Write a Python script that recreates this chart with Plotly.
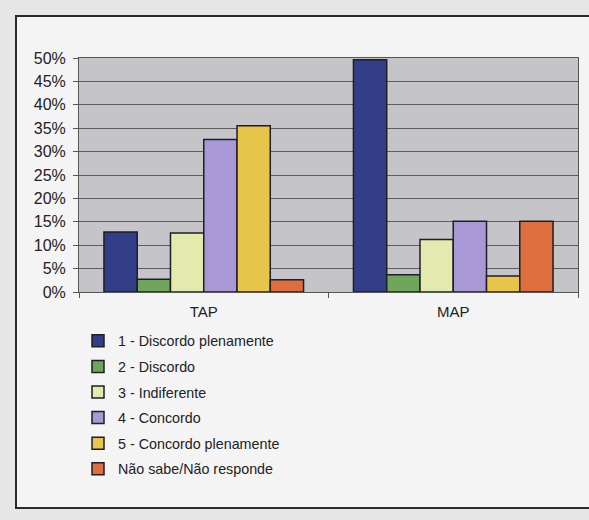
import plotly.graph_objects as go

# Survey responses by group (percent of respondents)
categories = ["TAP", "MAP"]
series_names = [
    "1 - Discordo plenamente",
    "2 - Discordo",
    "3 - Indiferente",
    "4 - Concordo",
    "5 - Concordo plenamente",
    "Não sabe/Não responde",
]
discordo_plenamente = [12.8, 49.6]
discordo = [2.7, 3.7]
indiferente = [12.6, 11.2]
concordo = [32.6, 15.1]
concordo_plenamente = [35.5, 3.4]
nao_sabe = [2.6, 15.1]
y_ticks = [0, 5, 10, 15, 20, 25, 30, 35, 40, 45, 50]
y_tick_labels = [f"{v}%" for v in y_ticks]

series_values = [discordo_plenamente, discordo, indiferente,
                 concordo, concordo_plenamente, nao_sabe]
colors = ["#323f88", "#6fa65b", "#e4eaae", "#a898d6", "#e6c54a", "#de6e3e"]

W, H = 589, 520
L, R, T, B = 79, 11, 58, 228
plot_w = W - L - R
plot_h = H - T - B


def px_x(px):
    return (px - L) / plot_w


def px_y(py):
    return (H - B - py) / plot_h


fig = go.Figure()
for i, (name, vals, col) in enumerate(zip(series_names, series_values, colors)):
    fig.add_trace(go.Bar(
        x=categories, y=vals, name=name, legendgroup=f"g{i}",
        marker=dict(color=col, line=dict(color="#1e1e24", width=1.5)),
    ))

# Surrounding page strips outside the chart frame
strip = "#e6e6e6"
for x0, x1, y0, y1 in [(-10, 16, -10, 530), (-10, 640, -10, 16), (-10, 640, 508, 530)]:
    fig.add_shape(type="rect", xref="paper", yref="paper",
                  x0=px_x(x0), x1=px_x(x1), y0=px_y(y1), y1=px_y(y0),
                  line=dict(width=0), fillcolor=strip, layer="below")

# Outer frame of the chart sheet
fig.add_shape(type="rect", xref="paper", yref="paper",
              x0=px_x(16), x1=px_x(640), y0=px_y(508), y1=px_y(16),
              line=dict(color="#2a2a2a", width=2), fillcolor="rgba(0,0,0,0)")

fig.update_layout(
    width=W, height=H,
    margin=dict(l=L, r=R, t=T, b=B),
    paper_bgcolor="#f4f4f4",
    plot_bgcolor="#c4c4c9",
    barmode="group", bargap=0.2, bargroupgap=0,
    font=dict(family="Liberation Sans, Arial, sans-serif", size=14, color="#222222"),
    showlegend=True,
    legend=dict(x=px_x(78), y=px_y(325), xanchor="left", yanchor="top",
                bgcolor="rgba(0,0,0,0)", tracegroupgap=4, itemwidth=30,
                font=dict(size=14.3, color="#222222")),
    xaxis=dict(showgrid=False, showline=True, linecolor="#555555", linewidth=1,
               mirror=True, ticks="outside", tickson="boundaries", ticklen=5,
               tickcolor="#555555", tickfont=dict(size=15), ticklabelstandoff=6),
    yaxis=dict(range=[0, 50], tickvals=y_ticks, ticktext=y_tick_labels,
               showgrid=True, gridcolor="#5c5c5c", gridwidth=1,
               showline=True, linecolor="#555555", linewidth=1, mirror=True,
               ticks="outside", ticklen=5, tickcolor="#555555",
               tickfont=dict(size=16), ticklabelstandoff=4, zeroline=False),
)

fig.write_html("out.html")
